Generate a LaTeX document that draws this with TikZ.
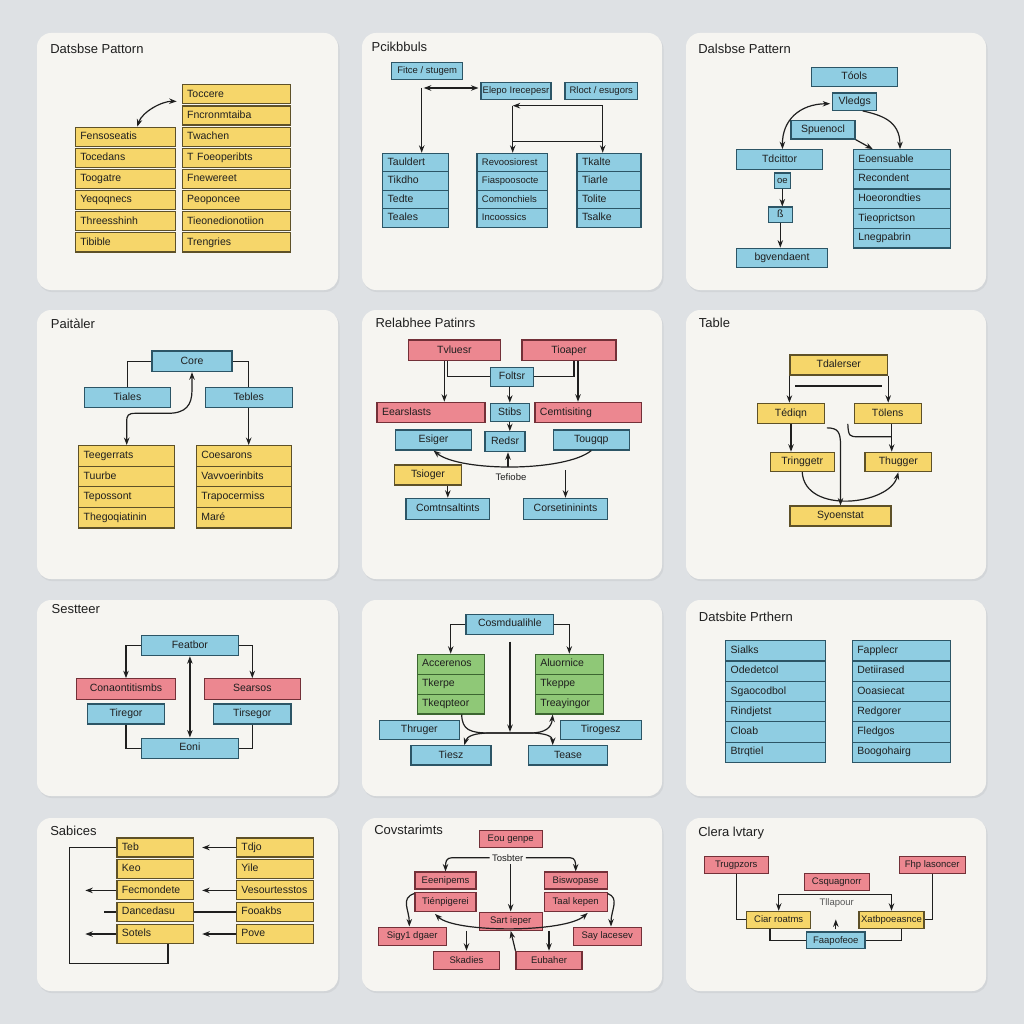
\documentclass[tikz,border=0pt]{standalone}
\usepackage{fontspec}
\setmainfont{Liberation Sans}
\usetikzlibrary{arrows.meta,calc}

\definecolor{page}{HTML}{DEE1E4}
\definecolor{shade}{HTML}{D2D5D8}
\definecolor{panel}{HTML}{F6F5F1}
\definecolor{ink}{HTML}{1F1F1F}
\definecolor{yfill}{HTML}{F6D66A}
\definecolor{yline}{HTML}{5E5128}
\definecolor{bfill}{HTML}{8FCDE2}
\definecolor{bline}{HTML}{2C5566}
\definecolor{rfill}{HTML}{EC8790}
\definecolor{rline}{HTML}{733038}
\definecolor{gfill}{HTML}{8FC877}
\definecolor{gline}{HTML}{3C6631}

\newcommand{\cellfont}{\fontsize{10.5}{12}\selectfont}
\newcommand{\smallcellfont}{\fontsize{9.5}{11}\selectfont}
\newcommand{\ttlfont}{\fontsize{13}{15}\selectfont}

\tikzset{
  card/.style={fill=panel, rounded corners=14pt},
  cardshade/.style={fill=shade, rounded corners=14pt},
  ttl/.style={anchor=west, inner sep=0pt, font=\ttlfont, text=ink},
  note/.style={inner sep=2pt, font=\smallcellfont, text=ink},
  cell/.style={draw, line width=1.1pt, inner sep=0pt, minimum height=19, text height=7.5pt, text depth=2pt, font=\cellfont, text=ink},
  ybox/.style={cell, fill=yfill, draw=yline, minimum width=#1},
  bbox/.style={cell, fill=bfill, draw=bline, minimum width=#1},
  rbox/.style={cell, fill=rfill, draw=rline, minimum width=#1},
  ytab/.style={cell, fill=yfill, draw=yline, inner xsep=5pt, text width=#1, align=left},
  btab/.style={cell, fill=bfill, draw=bline, inner xsep=5pt, text width=#1, align=left},
  rtab/.style={cell, fill=rfill, draw=rline, inner xsep=5pt, text width=#1, align=left},
  gtab/.style={cell, fill=gfill, draw=gline, inner xsep=5pt, text width=#1, align=left},
}

\begin{document}
\begin{tikzpicture}[x=1pt, y=-1pt, >={Stealth[length=7.5pt,width=5.5pt]}, line width=1.2pt, color=ink]
\fill[page] (0,0) rectangle (1024,1024);
\useasboundingbox (0,0) rectangle (1024,1024);

\path[cardshade] (38,35) rectangle (339.5,292);
\path[cardshade] (363,35) rectangle (663.5,292);
\path[cardshade] (687,35) rectangle (987.5,292);
\path[cardshade] (38,312) rectangle (339.5,581);
\path[cardshade] (363,312) rectangle (663.5,581);
\path[cardshade] (687,312) rectangle (987.5,581);
\path[cardshade] (38,602) rectangle (339.5,798);
\path[cardshade] (363,602) rectangle (663.5,798);
\path[cardshade] (687,602) rectangle (987.5,798);
\path[cardshade] (38,820) rectangle (339.5,993);
\path[cardshade] (363,820) rectangle (663.5,993);
\path[cardshade] (687,820) rectangle (987.5,993);
\path[card] (37,33) rectangle (338,290);
\path[card] (362,33) rectangle (662,290);
\path[card] (686,33) rectangle (986,290);
\path[card] (37,310) rectangle (338,579);
\path[card] (362,310) rectangle (662,579);
\path[card] (686,310) rectangle (986,579);
\path[card] (37,600) rectangle (338,796);
\path[card] (362,600) rectangle (662,796);
\path[card] (686,600) rectangle (986,796);
\path[card] (37,818) rectangle (338,991);
\path[card] (362,818) rectangle (662,991);
\path[card] (686,818) rectangle (986,991);

\node[ttl] (t1) at (49.7,49) {Datsbse Pattorn};
\node[ttl] (t2) at (371,47) {Pcikbbuls};
\node[ttl] (t3) at (697.7,49) {Dalsbse Pattern};
\node[ttl] (t4) at (50.3,323.3) {Paitàler};
\node[ttl] (t5) at (375,323.3) {Relabhee Patinrs};
\node[ttl] (t6) at (698.3,323) {Table};
\node[ttl] (t7) at (51,609.3) {Sestteer};
\node[ttl] (t9) at (698.3,617.3) {Datsbite Prthern};
\node[ttl] (t10) at (49.7,831) {Sabices};
\node[ttl] (t11) at (373.7,830.3) {Covstarimts};
\node[ttl] (t12) at (697.7,833) {Clera lvtary};

\node[ytab=90pt] (a1) at (125.3,136.7) {Fensoseatis};
\node[ytab=90pt] (a2) at (125.3,157.85) {Tocedans};
\node[ytab=90pt] (a3) at (125.3,179) {Toogatre};
\node[ytab=90pt] (a4) at (125.3,200.15) {Yeqoqnecs};
\node[ytab=90pt] (a5) at (125.3,221.3) {Threesshinh};
\node[ytab=90pt] (a6) at (125.3,242.45) {Tibible};
\node[ytab=98pt] (b1) at (236.2,94.4) {Toccere};
\node[ytab=98pt] (b2) at (236.2,115.55) {Fncronmtaiba};
\node[ytab=98pt] (b3) at (236.2,136.7) {Twachen};
\node[ytab=98pt] (b4) at (236.2,157.85) {T Foeoperibts};
\node[ytab=98pt] (b5) at (236.2,179) {Fnewereet};
\node[ytab=98pt] (b6) at (236.2,200.15) {Peoponcee};
\node[ytab=98pt] (b7) at (236.2,221.3) {Tieonedionotiion};
\node[ytab=98pt] (b8) at (236.2,242.45) {Trengries};
\draw[<->] ($(a1.north)+(12,0)$) .. controls (142,112) and (162,101) .. ($(b1.west)+(-5,7)$);

\node[bbox=71pt, minimum height=17.5, font=\smallcellfont] (fit) at (427.2,71) {Fitce / stugem};
\node[bbox=70pt, minimum height=17.5, font=\smallcellfont] (ele) at (516,91) {Elepo Irecepesr};
\node[bbox=72.7pt, minimum height=17.5, font=\smallcellfont] (rlo) at (601.3,91) {Rloct / esugors};
\node[btab=55.6pt, minimum height=18.5] (c1) at (415.5,162.6) {Tauldert};
\node[btab=55.6pt, minimum height=18.5] (c2) at (415.5,181.1) {Tikdho};
\node[btab=55.6pt, minimum height=18.5] (c3) at (415.5,199.6) {Tedte};
\node[btab=55.6pt, minimum height=18.5] (c4) at (415.5,218.1) {Teales};
\node[btab=60.7pt, minimum height=18.5, font=\smallcellfont] (d1) at (512.3,162.6) {Revoosiorest};
\node[btab=60.7pt, minimum height=18.5, font=\smallcellfont] (d2) at (512.3,181.1) {Fiaspoosocte};
\node[btab=60.7pt, minimum height=18.5, font=\smallcellfont] (d3) at (512.3,199.6) {Comonchiels};
\node[btab=60.7pt, minimum height=18.5, font=\smallcellfont] (d4) at (512.3,218.1) {Incoossics};
\node[btab=54pt, minimum height=18.5] (e1) at (609,162.6) {Tkalte};
\node[btab=54pt, minimum height=18.5] (e2) at (609,181.1) {Tiarle};
\node[btab=54pt, minimum height=18.5] (e3) at (609,199.6) {Tolite};
\node[btab=54pt, minimum height=18.5] (e4) at (609,218.1) {Tsalke};
\coordinate (c2a) at (421.7,88);
\coordinate (c2b) at (602.7,105.7);
\coordinate (c2c) at (512.7,105.7);
\coordinate (c2d) at (512.7,141.3);
\draw[->] (c2a) -- (c2a |- c1.north);
\draw[<->, shorten <=2pt, shorten >=2pt] (c2a) -- (ele.west |- c2a);
\draw[->] (c2b) -- (c2c);
\draw[->] (c2c) -- (c2c |- d1.north);
\draw[->] (c2b) -- (c2b |- e1.north);
\draw (c2d) -- (c2d -| c2b);

\node[bbox=86.3pt] (too) at (854.2,76.7) {Tóols};
\node[bbox=44pt, minimum height=17.3] (vle) at (854.7,101.7) {Vledgs};
\node[bbox=64pt, minimum height=18.7] (spu) at (823,129.7) {Spuenocl};
\node[bbox=85.6pt, minimum height=20] (tdc) at (779.5,159.7) {Tdcittor};
\node[bbox=16pt, minimum height=15.3, font=\smallcellfont] (oe) at (782.3,180.7) {oe};
\node[bbox=24pt, minimum height=15.3] (ss) at (780.3,214.7) {ß};
\node[bbox=90.6pt] (bgv) at (782,257.7) {bgvendaent};
\node[btab=87.4pt, minimum height=19.66] (f1) at (902,159.5) {Eoensuable};
\node[btab=87.4pt, minimum height=19.66] (f2) at (902,179.2) {Recondent};
\node[btab=87.4pt, minimum height=19.66] (f3) at (902,198.8) {Hoeorondties};
\node[btab=87.4pt, minimum height=19.66] (f4) at (902,218.5) {Tieoprictson};
\node[btab=87.4pt, minimum height=19.66] (f5) at (902,238.2) {Lnegpabrin};
\draw[<->] ($(tdc.north)+(3,0)$) .. controls (782,120) and (800,104) .. ($(vle.west)+(-2,2)$);
\draw[->] ($(vle.south)+(8,0)$) .. controls (880,115) and (900,120) .. ($(f1.north)+(-2,0)$);
\draw[->] (spu.south east) -- ($(f1.north west)+(20,0)$);
\draw[->] (oe.south) -- (oe.south |- ss.north);
\draw[->] (ss.south) -- (ss.south |- bgv.north);

\node[bbox=80pt, minimum height=20.7] (cor) at (192,361.3) {Core};
\node[bbox=85.6pt, minimum height=20.4] (tia) at (127.5,397.5) {Tiales};
\node[bbox=86.7pt, minimum height=20.4] (teb) at (248.7,397.5) {Tebles};
\node[ytab=86pt, minimum height=20.6] (g1) at (126.7,455.9) {Teegerrats};
\node[ytab=86pt, minimum height=20.6] (g2) at (126.7,476.5) {Tuurbe};
\node[ytab=86pt, minimum height=20.6] (g3) at (126.7,497.1) {Tepossont};
\node[ytab=86pt, minimum height=20.6] (g4) at (126.7,517.7) {Thegoqiatinin};
\node[ytab=85pt, minimum height=20.6] (h1) at (243.8,455.9) {Coesarons};
\node[ytab=85pt, minimum height=20.6] (h2) at (243.8,476.5) {Vavvoerinbits};
\node[ytab=85pt, minimum height=20.6] (h3) at (243.8,497.1) {Trapocermiss};
\node[ytab=85pt, minimum height=20.6] (h4) at (243.8,517.7) {Maré};
\draw (cor.west) -| (tia.north);
\draw (cor.east) -| (teb.north);
\draw[<->] (g1.north) -- (126.7,422) .. controls (126.7,415) and (128,413.3) .. (136,413.3) -- (168,413.3) .. controls (186,413.3) and (192,405) .. (192,390) -- (cor.south);
\draw[->] (teb.south) -- (teb.south |- h1.north);

\node[rbox=92pt, minimum height=20.7] (tvl) at (454.3,350.3) {Tvluesr};
\node[rbox=94pt, minimum height=20.7] (tio) at (569,350.3) {Tioaper};
\node[bbox=43.4pt, minimum height=18.7] (fol) at (512,376.7) {Foltsr};
\node[rtab=98pt, minimum height=20.4] (eea) at (431,412.5) {Eearslasts};
\node[bbox=39pt, minimum height=18.4] (sti) at (509.8,412.5) {Stibs};
\node[rtab=96.7pt, minimum height=20.4] (cem) at (588.3,412.5) {Cemtisiting};
\node[bbox=76.4pt, minimum height=20] (esi) at (433.5,440) {Esiger};
\node[bbox=40pt, minimum height=20] (rsr) at (505,441.7) {Redsr};
\node[bbox=76pt, minimum height=20] (tou) at (591.3,440) {Tougqp};
\node[ybox=67.4pt, minimum height=20] (tsi) at (428,475) {Tsioger};
\node[note] (tef) at (511,477) {Tefiobe};
\node[bbox=83.7pt, minimum height=21] (cmt) at (447.8,508.8) {Comtnsaltints};
\node[bbox=84.4pt, minimum height=21] (cst) at (565.5,508.8) {Corsetininints};
\coordinate (c5a) at (508,467);
\coordinate (c5b) at (565.5,470);
\draw[->] ([xshift=-10pt]tvl.south) -- ([xshift=-10pt]tvl.south |- eea.north);
\draw ([xshift=-7pt]tvl.south) |- (fol.west);
\draw[->] ([xshift=9pt]tio.south) -- ([xshift=9pt]tio.south |- cem.north);
\draw ([xshift=5pt]tio.south) |- (fol.east);
\draw[->] (sti.north |- fol.south) -- (sti.north);
\draw[->] (sti.south) -- (sti.south |- rsr.north);
\draw[->] (tou.south) .. controls (565,472) and (460,472) .. (esi.south);
\draw[->] (c5a) -- ([xshift=3pt]rsr.south);
\draw[->] (cmt.north |- tsi.south) -- (cmt.north);
\draw[->] (c5b) -- (cst.north);

\node[ybox=97.7pt, minimum height=20] (tda) at (838.8,365) {Tdalerser};
\node[ybox=66.6pt, minimum height=20] (ted) at (791,413.3) {Tédiqn};
\node[ybox=66.7pt, minimum height=20] (tol) at (887.7,413.3) {Tölens};
\node[ybox=64.3pt, minimum height=19.4] (tri) at (802.2,462) {Tringgetr};
\node[ybox=66.7pt, minimum height=19.4] (thu) at (898.3,462) {Thugger};
\node[ybox=101pt, minimum height=20] (syo) at (840.5,516) {Syoenstat};
\coordinate (c6a) at (795,386);
\coordinate (c6b) at (881.7,386);
\draw[->] (tda.south west) -- (tda.south west |- ted.north);
\draw[->] (tda.south east) -- (tda.south east |- tol.north);
\draw (c6a) -- (c6b);
\draw[->] (ted.south) -- (ted.south |- tri.north);
\draw[->] ([xshift=4pt]tol.south) -- ([xshift=4pt]tol.south |- thu.north);
\draw ($(tol.south west)+(-6,0)$) .. controls (848.3,436.7) and (850,436.7) .. (858,436.7) -- (891.7,436.7);
\draw[->] ($(ted.south east)+(2,4)$) .. controls (838,428) and (840.5,432) .. (840.5,445) -- (syo.north);
\draw[->] (tri.south) .. controls (805,515) and (890,505) .. (thu.south);

\node[bbox=97.7pt, minimum height=20] (fea) at (189.9,645.7) {Featbor};
\node[rbox=99.4pt, minimum height=20.6] (con) at (126,689) {Conaontitismbs};
\node[rbox=96pt, minimum height=20.6] (sea) at (252.3,689) {Searsos};
\node[bbox=76.6pt, minimum height=20] (tir) at (126,714) {Tiregor};
\node[bbox=77.3pt, minimum height=20] (tis) at (252.3,714) {Tirsegor};
\node[bbox=97.7pt, minimum height=20.3] (eon) at (189.9,748.2) {Eoni};
\draw[->] (fea.west) -| (con.north);
\draw[->] (fea.east) -| (sea.north);
\draw[<->] (fea.south) -- (eon.north);
\draw (tir.south) |- (eon.west);
\draw (tis.south) |- (eon.east);

\node[bbox=87.7pt, minimum height=20.3] (cmd) at (509.8,624.2) {Cosmdualihle};
\node[gtab=57.3pt, minimum height=19.9] (m1) at (450.7,664.2) {Accerenos};
\node[gtab=57.3pt, minimum height=19.9] (m2) at (450.7,684.1) {Tkerpe};
\node[gtab=57.3pt, minimum height=19.9] (m3) at (450.7,704) {Tkeqpteor};
\node[gtab=58pt, minimum height=19.9] (n1) at (569.3,664.2) {Aluornice};
\node[gtab=58pt, minimum height=19.9] (n2) at (569.3,684.1) {Tkeppe};
\node[gtab=58pt, minimum height=19.9] (n3) at (569.3,704) {Treayingor};
\node[bbox=80pt, minimum height=19.3] (thr) at (419.3,729.7) {Thruger};
\node[bbox=80.7pt, minimum height=19.3] (tig) at (600.7,729.7) {Tirogesz};
\node[bbox=80pt, minimum height=19.3] (tie) at (451,755.3) {Tiesz};
\node[bbox=79.4pt, minimum height=19.3] (tea) at (568,755.3) {Tease};
\coordinate (c8a) at (510,641.7);
\coordinate (c8b) at (510,732);
\draw[->] (cmd.west) -| (m1.north);
\draw[->] (cmd.east) -| (n1.north);
\draw[->] (c8a) -- (c8b);
\draw[->] ($(m3.south)+(11,0)$) .. controls (462,730) and (470,733) .. (490,733) -- (530,733) .. controls (545,733) and (552.7,736) .. ($(tea.north)+(-15.3,0)$);
\draw[<->] ($(tie.north)+(13.3,0)$) .. controls (467,736) and (475,733) .. (490,733) -- (530,733) .. controls (545,733) and (551.5,728) .. ($(n3.south)+(-16.6,0)$);

\node[btab=90pt, minimum height=20.3] (k1) at (775.7,650.8) {Sialks};
\node[btab=90pt, minimum height=20.3] (k2) at (775.7,671.1) {Odedetcol};
\node[btab=90pt, minimum height=20.3] (k3) at (775.7,691.4) {Sgaocodbol};
\node[btab=90pt, minimum height=20.3] (k4) at (775.7,711.6) {Rindjetst};
\node[btab=90pt, minimum height=20.3] (k5) at (775.7,731.9) {Cloab};
\node[btab=90pt, minimum height=20.3] (k6) at (775.7,752.2) {Btrqtiel};
\node[btab=88.4pt, minimum height=20.3] (l1) at (901.5,650.8) {Fapplecr};
\node[btab=88.4pt, minimum height=20.3] (l2) at (901.5,671.1) {Detiirased};
\node[btab=88.4pt, minimum height=20.3] (l3) at (901.5,691.4) {Ooasiecat};
\node[btab=88.4pt, minimum height=20.3] (l4) at (901.5,711.6) {Redgorer};
\node[btab=88.4pt, minimum height=20.3] (l5) at (901.5,731.9) {Fledgos};
\node[btab=88.4pt, minimum height=20.3] (l6) at (901.5,752.2) {Boogohairg};

\node[ytab=66.7pt] (u1) at (155.3,847.5) {Teb};
\node[ytab=66.7pt] (u2) at (155.3,869) {Keo};
\node[ytab=66.7pt] (u3) at (155.3,890.4) {Fecmondete};
\node[ytab=66.7pt] (u4) at (155.3,911.9) {Dancedasu};
\node[ytab=66.7pt] (u5) at (155.3,934) {Sotels};
\node[ytab=66.7pt] (v1) at (274.7,847.5) {Tdjo};
\node[ytab=66.7pt] (v2) at (274.7,869) {Yile};
\node[ytab=66.7pt] (v3) at (274.7,890.4) {Vesourtesstos};
\node[ytab=66.7pt] (v4) at (274.7,911.9) {Fooakbs};
\node[ytab=66.7pt] (v5) at (274.7,934) {Pove};
\coordinate (c10a) at (85.3,890.4);
\coordinate (c10b) at (85.3,934);
\coordinate (c10c) at (103.7,911.9);
\coordinate (c10d) at (69.3,963.7);
\draw[->, shorten >=8pt] (v1.west) -- (u1.east);
\draw[->, shorten >=8pt] (v3.west) -- (u3.east);
\draw[->, shorten >=8pt] (v5.west) -- (u5.east);
\draw (u4.east) -- (v4.west);
\draw[->] (u3.west) -- (c10a);
\draw[->] (u5.west) -- (c10b);
\draw (u4.west) -- (c10c);
\draw (u1.west) -| (c10d) -| ($(u5.south)+(12.7,0)$);

\node[rbox=62.7pt, minimum height=16.7, font=\smallcellfont] (eou) at (510.7,838.7) {Eou genpe};
\node[note] (tos) at (507.7,857.7) {Tosbter};
\node[rbox=61pt, minimum height=17, font=\smallcellfont] (eee) at (445.5,880.5) {Eeenipems};
\node[rbox=61pt, minimum height=19.3, font=\smallcellfont] (tin) at (445.5,901.7) {Tiénpigerei};
\node[rbox=62.7pt, minimum height=17, font=\smallcellfont] (bis) at (575.7,880.5) {Biswopase};
\node[rbox=62.7pt, minimum height=19.3, font=\smallcellfont] (taa) at (575.7,901.7) {Taal kepen};
\node[rbox=62.7pt, minimum height=18.3, font=\smallcellfont] (sar) at (510.7,921.2) {Sart ieper};
\node[rbox=67.7pt, minimum height=18.3, font=\smallcellfont] (sig) at (412.2,936.2) {Sigy1 dgaer};
\node[rbox=67.7pt, minimum height=18.3, font=\smallcellfont] (say) at (607.2,936.2) {Say lacesev};
\node[rbox=65.6pt, minimum height=18.4, font=\smallcellfont] (ska) at (466.5,960.5) {Skadies};
\node[rbox=66pt, minimum height=18.4, font=\smallcellfont] (eub) at (549,960.5) {Eubaher};
\draw[->] (tos.west) -- (452,857.7) .. controls (446,857.7) and (445.5,862) .. (eee.north);
\draw[->] (tos.east) -- (570,857.7) .. controls (575,857.7) and (575.7,862) .. (bis.north);
\draw[->] (sar.north |- tos.south) -- (sar.north);
\draw[->] ($(tin.north west)+(0,2)$) .. controls (400,898) and (409.3,910) .. ($(sig.north)+(-2.9,0)$);
\draw[->] ($(taa.north east)+(0,2)$) .. controls (620,898) and (611,910) .. ($(say.north)+(3.8,0)$);
\draw[<->] ($(tin.south)+(-10.5,2)$) .. controls (455,933) and (565,933) .. ($(taa.south)+(12,1)$);
\draw[->] (ska.north |- sar.south) -- (ska.north);
\draw[->] (eub.north |- sar.south) -- (eub.north);
\draw[->] (eub.north west) -- (sar.south);

\node[rbox=64.3pt, minimum height=16.7, font=\smallcellfont] (trg) at (736.2,864.7) {Trugpzors};
\node[rbox=65.7pt, minimum height=16.7, font=\smallcellfont] (fhp) at (932.2,864.7) {Fhp lasoncer};
\node[rbox=65pt, minimum height=16.6, font=\smallcellfont] (csq) at (836.8,882) {Csquagnorr};
\node[note, text=ink!75] (tll) at (836.7,903) {Tllapour};
\node[ybox=64pt, minimum height=16.7, font=\smallcellfont] (cia) at (778.7,919.7) {Ciar roatms};
\node[ybox=65pt, minimum height=16.7, font=\smallcellfont] (xat) at (891.5,919.7) {Xatbpoeasnce};
\node[bbox=58.3pt, minimum height=16.7, font=\smallcellfont] (faa) at (835.8,940.3) {Faapofeoe};
\draw (trg.south) |- (cia.west);
\draw (fhp.south) |- (xat.east);
\draw[<->] (cia.north) -- ++(0,-16) -| (xat.north);
\draw ($(cia.south)+(-8.7,0)$) |- (faa.west);
\draw ($(xat.south)+(10.2,0)$) |- (faa.east);
\draw[->] ($(faa.north)+(0,-2)$) -- ++(0,-10);
\end{tikzpicture}
\end{document}
